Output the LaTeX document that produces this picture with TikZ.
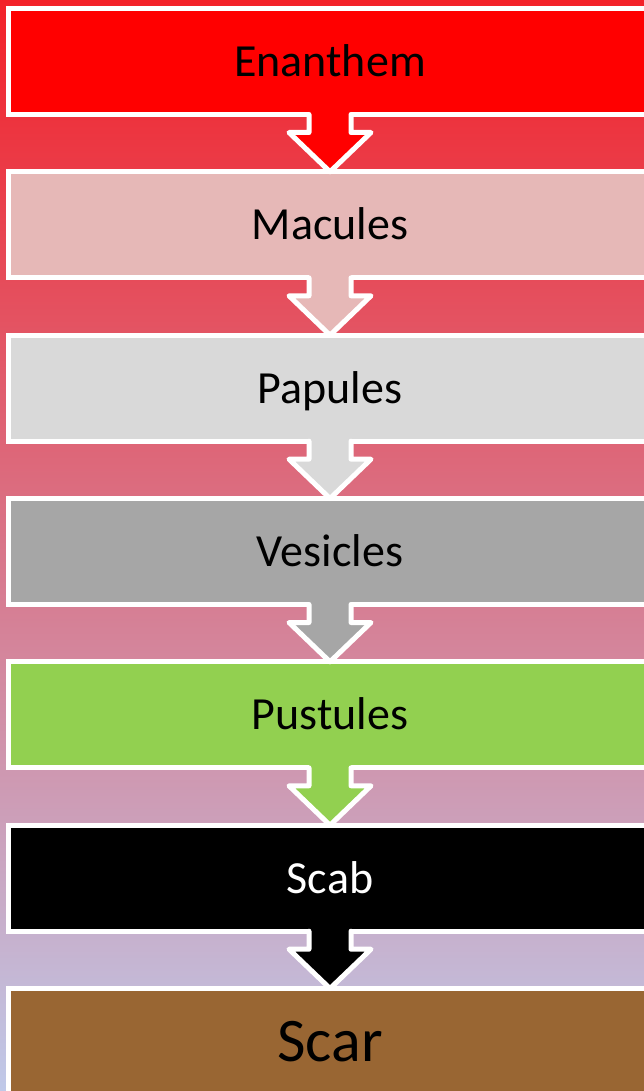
\documentclass[tikz,border=0pt]{standalone}
\usepackage{fontspec}
\setmainfont{Carlito}
\definecolor{bgtop}{RGB}{243,33,41}
\definecolor{bgbot}{RGB}{191,201,233}
\definecolor{cEnanthem}{RGB}{255,0,0}
\definecolor{cMacules}{RGB}{230,184,183}
\definecolor{cPapules}{RGB}{217,217,217}
\definecolor{cVesicles}{RGB}{166,166,166}
\definecolor{cPustules}{RGB}{146,208,80}
\definecolor{cScab}{RGB}{0,0,0}
\definecolor{cScar}{RGB}{153,102,51}
\tikzset{
  stagebox/.style={draw=white, line width=5pt, rectangle, inner sep=0pt, outer sep=0pt,
    minimum width=643pt, minimum height=106pt, text height=29.6pt, text depth=0pt,
    font=\fontsize{46}{50}\selectfont},
  bigstage/.style={stagebox, text height=40pt, font=\fontsize{62}{66}\selectfont},
  arrowline/.style={draw=white, line width=5pt, line join=round, line cap=round},
}
\newcommand\flowarrow[3]{%
  \fill[#3] ([xshift=-21pt,yshift=4pt]#1.south) -- ++(0,22) -- ++(-20,0) -- (#2.north)
     -- ([xshift=41pt,yshift=-18pt]#1.south) -- ++(-20,0) -- ++(0,-22) -- cycle;
  \draw[arrowline] ([xshift=-21pt]#1.south) -- ++(0,18) -- ++(-20,0) -- (#2.north)
     -- ([xshift=41pt,yshift=-18pt]#1.south) -- ++(-20,0) -- ++(0,-18);
}
\begin{document}
\begin{tikzpicture}[x=1pt,y=-1pt]
\useasboundingbox (0,0) rectangle (644,1091);
\shade[top color=bgtop, bottom color=bgbot] (0,0) rectangle (644,1091);
\node[stagebox, fill=cEnanthem] (b1) at (330,61.5) {Enanthem};
\node[stagebox, fill=cMacules] (b2) at (330,224.8) {Macules};
\node[stagebox, fill=cPapules] (b3) at (330,388.2) {Papules};
\node[stagebox, fill=cVesicles] (b4) at (330,551.5) {Vesicles};
\node[stagebox, fill=cPustules] (b5) at (330,714.8) {Pustules};
\node[stagebox, fill=cScab, text=white] (b6) at (330,878.2) {Scab};
\node[bigstage, fill=cScar] (b7) at (330,1041.5) {Scar};
\flowarrow{b1}{b2}{cEnanthem}
\flowarrow{b2}{b3}{cMacules}
\flowarrow{b3}{b4}{cPapules}
\flowarrow{b4}{b5}{cVesicles}
\flowarrow{b5}{b6}{cPustules}
\flowarrow{b6}{b7}{cScab}
\end{tikzpicture}
\end{document}
